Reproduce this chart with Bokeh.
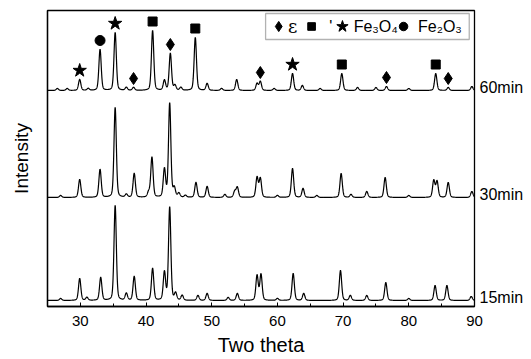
import numpy as np
from bokeh.plotting import figure
from bokeh.models import Range1d, LinearAxis, FixedTicker, SingleIntervalTicker, BoxAnnotation
from bokeh.core.properties import value
from bokeh.embed import file_html
from bokeh.resources import INLINE

# ---------------- data ----------------
pattern_labels = ["15min", "30min", "60min"]
baselines = [6, 109, 216]          # vertical offsets of the stacked patterns

# 60 min pattern: peak positions (2θ), heights, phase tag
pos_60 = [26.5, 28.0, 29.9, 31.2, 33.0, 35.3, 37.0, 38.1, 41.0, 42.8, 43.7, 44.4, 45.3,
          47.5, 49.3, 51.5, 53.8, 56.9, 57.4, 59.5, 62.3, 63.8, 66.5, 69.8, 72.2, 75.0,
          76.6, 80.0, 84.1, 86.0, 89.6]
h_60 = [2, 2, 11, 2, 41, 58, 3, 3, 60, 10, 37, 5, 3,
        53, 7, 2, 11, 7, 9, 2, 17, 5, 2, 17, 3, 3,
        4, 2, 17, 3, 4]
phase_60 = ["", "", "Fe3O4", "", "Fe2O3", "Fe3O4", "", "eps", "gam", "", "eps", "", "",
            "gam", "", "", "", "", "eps", "", "Fe3O4", "", "", "gam", "", "",
            "eps", "", "gam", "eps", ""]

# 30 min pattern
pos_30 = [27.0, 29.9, 33.0, 35.3, 37.0, 38.2, 40.4, 40.9, 42.8, 43.6, 44.3, 45.0, 46.0,
          47.6, 49.3, 52.0, 53.5, 53.9, 56.9, 57.4, 60.0, 62.3, 63.9, 66.0, 69.7, 71.2,
          73.6, 76.4, 80.0, 83.8, 84.3, 86.0, 89.6]
h_30 = [2, 18, 28, 90, 3, 24, 5, 40, 28, 94, 9, 4, 2,
        15, 11, 3, 6, 10, 20, 19, 2, 29, 9, 2, 24, 3,
        6, 20, 2, 17, 16, 15, 6]

# 15 min pattern
pos_15 = [27.0, 29.9, 31.0, 33.1, 35.3, 37.0, 38.2, 41.0, 42.8, 43.6, 44.5, 45.5,
          47.9, 49.3, 52.5, 53.9, 56.9, 57.5, 60.0, 62.4, 64.0, 69.6, 71.1, 73.6,
          76.5, 80.0, 84.0, 85.8, 89.5]
h_15 = [2, 22, 3, 23, 95, 7, 24, 32, 28, 93, 7, 5,
        5, 7, 3, 7, 25, 26, 2, 27, 7, 30, 5, 5,
        18, 2, 15, 15, 4]

x_ticks_interval = 10
legend_phases = ["eps", "gam", "Fe3O4", "Fe2O3"]
legend_texts = ["ε", "'", "Fe₃O₄", "Fe₂O₃"]

# ---------------- rendering ----------------
FONT = "Liberation Sans"
two_theta = np.linspace(25, 90, 3251)


def pattern(pos, h, fwhm=0.42, eta=0.3):
    y = np.zeros_like(two_theta)
    for c, a in zip(pos, h):
        d = (two_theta - c) / (fwhm / 2)
        y += a * (eta / (1 + d ** 2) + (1 - eta) * np.exp(-np.log(2) * d ** 2))
    return y


p = figure(frame_width=427, frame_height=296, output_backend="svg", toolbar_location=None,
           x_range=Range1d(25, 90), y_range=Range1d(0, 296),
           min_border_left=47, min_border_top=10, min_border_right=0, min_border_bottom=0)
p.xgrid.visible = False
p.ygrid.visible = False
p.outline_line_color = "black"
p.outline_line_width = 1.3
p.background_fill_color = "white"

for base, pos, h in zip(baselines, [pos_15, pos_30, pos_60], [h_15, h_30, h_60]):
    p.line(two_theta, base + pattern(pos, h), line_color="black", line_width=1.2)

# phase markers above the 60 min peaks
marker_style = {"eps": ("diamond", 12), "gam": ("square", 9),
                "Fe3O4": ("star", 14), "Fe2O3": ("circle", 10)}
for ph, (mk, sz) in marker_style.items():
    xs = [x for x, t in zip(pos_60, phase_60) if t == ph]
    ys = [baselines[2] + hh + 9 for hh, t in zip(h_60, phase_60) if t == ph]
    p.scatter(xs, ys, marker=mk, size=sz, fill_color="black", line_color="black")

# legend box
p.add_layout(BoxAnnotation(left=58.2, right=89.2, bottom=267, top=293, fill_color="white",
                           fill_alpha=1, line_color="black", line_width=1.3, level="underlay"))
leg_marker_x = [60.2, 65.2, 69.9, 79.2]
leg_text_x = [61.6, 67.9, 71.6, 81.4]
for ph, mx, tx, txt in zip(legend_phases, leg_marker_x, leg_text_x, legend_texts):
    mk, sz = marker_style[ph]
    p.scatter([mx], [280], marker=mk, size=sz * 0.85, fill_color="black", line_color="black")
    f = "DejaVu Serif" if ph == "eps" else FONT
    fs = "18px" if ph == "eps" else "16px"
    p.text([tx], [280], text=[txt], text_font=value(f), text_font_size=fs,
           text_baseline="middle", text_align="left", text_color="black")

# axes
xa = p.xaxis[0]
xa.ticker = SingleIntervalTicker(interval=x_ticks_interval, num_minor_ticks=2)
xa.major_tick_in = 4
xa.major_tick_out = 0
xa.minor_tick_in = 3
xa.minor_tick_out = 0
xa.axis_line_width = 1.3
xa.major_label_text_font = FONT
xa.major_label_text_font_size = "15px"
xa.major_label_text_color = "black"
xa.major_label_standoff = 9
xa.axis_label = "Two theta"
xa.axis_label_text_font = FONT
xa.axis_label_text_font_size = "20px"
xa.axis_label_text_font_style = "normal"
xa.axis_label_text_color = "black"
xa.axis_label_standoff = 5

ya = p.yaxis[0]
ya.ticker = FixedTicker(ticks=[])
ya.major_tick_line_color = None
ya.minor_tick_line_color = None
ya.major_tick_in = 0
ya.major_tick_out = 0
ya.axis_line_width = 1.3
ya.axis_label = "Intensity"
ya.axis_label_text_font = FONT
ya.axis_label_text_font_size = "19px"
ya.axis_label_text_font_style = "normal"
ya.axis_label_text_color = "black"
ya.axis_label_standoff = 16

label_y = [b + 3 for b in baselines]
ra = LinearAxis(ticker=FixedTicker(ticks=label_y),
                major_label_overrides={y: t for y, t in zip(label_y, pattern_labels)},
                axis_line_color=None, major_tick_line_color=None, minor_tick_line_color=None,
                major_tick_in=0, major_tick_out=0, minor_tick_in=0, minor_tick_out=0,
                major_label_standoff=5, major_label_text_font=FONT,
                major_label_text_font_size="16px", major_label_text_color="black")
p.add_layout(ra, "right")

open("out.html", "w").write(file_html(p, INLINE))
